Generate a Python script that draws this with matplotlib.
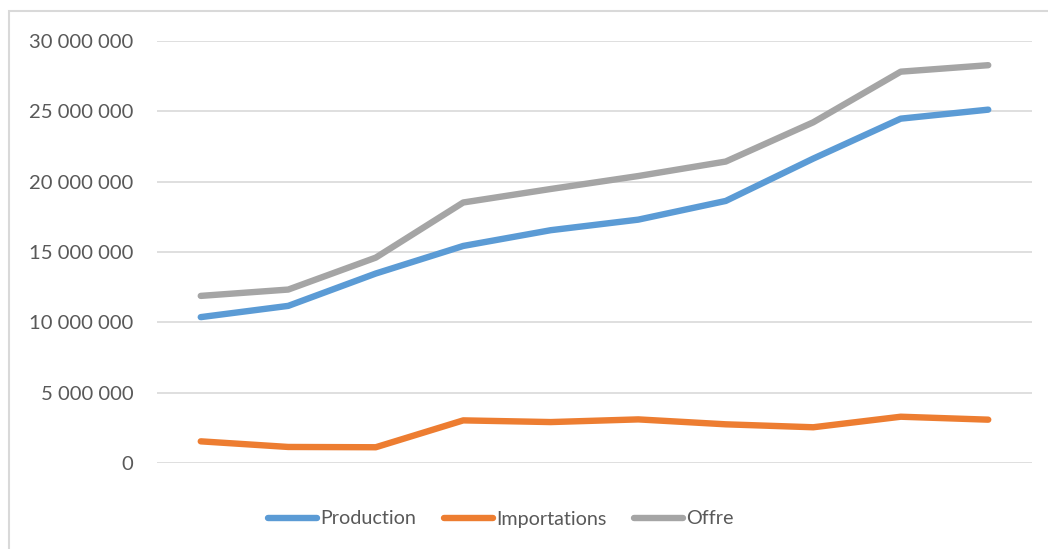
import matplotlib.pyplot as plt
import matplotlib.patches as patches
from matplotlib.ticker import FuncFormatter

# séries annuelles (10 points)
production = [10.37e6, 11.17e6, 13.47e6, 15.43e6, 16.55e6, 17.30e6, 18.63e6, 21.64e6, 24.48e6, 25.12e6]
importations = [1.54e6, 1.14e6, 1.12e6, 3.03e6, 2.91e6, 3.10e6, 2.75e6, 2.54e6, 3.29e6, 3.08e6]
offre = [11.88e6, 12.33e6, 14.60e6, 18.52e6, 19.48e6, 20.40e6, 21.43e6, 24.22e6, 27.82e6, 28.28e6]
noms = ['Production', 'Importations', 'Offre']
couleurs = ['#5B9BD5', '#ED7D31', '#A5A5A5']
yticks = [0, 5e6, 10e6, 15e6, 20e6, 25e6, 30e6]

plt.rcParams['font.family'] = ['Lato', 'DejaVu Sans']

W, H = 1048, 549
fig = plt.figure(figsize=(W / 100, H / 100), dpi=100)
ax = fig.add_axes([157 / W, 1 - 463 / H, (1032 - 157) / W, (463 - 41) / H])

# cadre du graphique
fig.patches.append(patches.Rectangle((9 / W, -0.1), 1.2, 1 - 11 / H + 0.1,
                                     transform=fig.transFigure, fill=False,
                                     edgecolor='#D9D9D9', linewidth=1.5))

x = range(len(production))
for serie, nom, c in zip([production, importations, offre], noms, couleurs):
    ax.plot(x, serie, color=c, lw=4.6, label=nom, solid_capstyle='round',
            solid_joinstyle='round')

ax.set_xlim(-0.5, len(production) - 0.5)
ax.set_ylim(0, 30e6)
ax.set_yticks(yticks)
ax.yaxis.set_major_formatter(FuncFormatter(lambda v, p: f'{int(v):,}'.replace(',', ' ')))
ax.grid(axis='y', color='#D9D9D9', lw=1.2)
ax.set_axisbelow(True)
ax.set_xticks([])
for s in ax.spines.values():
    s.set_visible(False)
ax.tick_params(axis='y', length=0, pad=17, labelsize=14.6, labelcolor='#595959')

fig.legend(loc='center', bbox_to_anchor=(501 / W, 1 - 519 / H), ncol=3,
           frameon=False, fontsize=14.2, labelcolor='#595959',
           handlelength=2.5, handletextpad=0.15, columnspacing=1.4)

fig.savefig('out.png', dpi=100)
